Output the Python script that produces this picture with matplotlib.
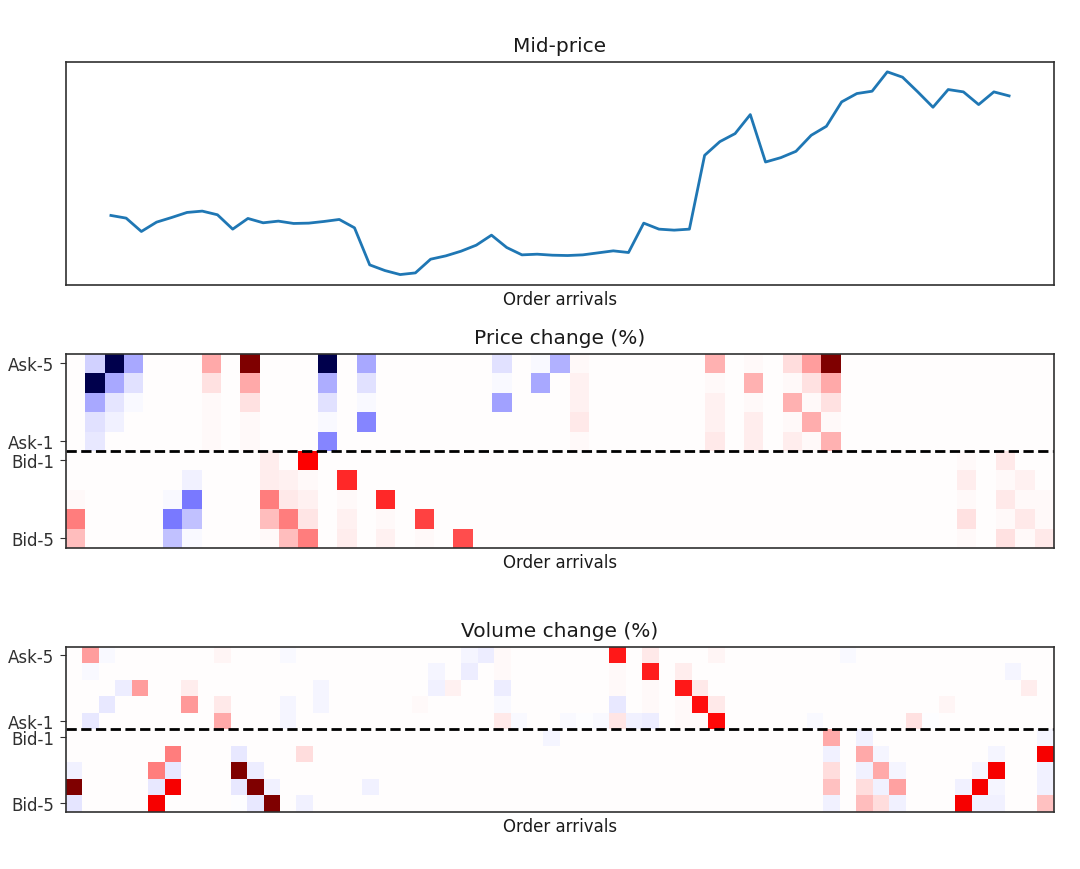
import numpy as np
from matplotlib import pyplot as plt

## Mid-price (arbitrary units, the axis has no ticks)

mid_price = [208, 200, 160, 188, 202, 217, 221, 210, 167, 199,
             186, 191, 184, 185, 190, 196, 171, 60, 43, 31,
             36, 77, 87, 101, 119, 149, 112, 90, 92, 89,
             88, 90, 96, 102, 97, 185, 167, 164, 167, 388,
             429, 453, 510, 368, 381, 400, 448, 475, 548, 573,
             580, 638, 622, 578, 532, 585, 578, 540, 578, 566]

level_labels = ['Ask-5', 'Ask-1', 'Bid-1', 'Bid-5']
level_ticks = [0, 4, 5, 9]

## Price change cells: level (row), arrival (column), value

price_level = [7, 8, 9,
               0, 1, 2, 3, 4,
               0, 1, 2, 3,
               0, 1, 2,
               7, 8, 9,
               6, 7, 8, 9,
               0, 1, 2, 3, 4,
               0, 1, 2, 3, 4,
               5, 6, 7, 8, 9,
               6, 7, 8, 9,
               5, 6, 7, 8, 9,
               0, 1, 2, 3, 4,
               6, 7, 8, 9,
               0, 1, 2, 3,
               7, 8, 9,
               8, 9,
               9,
               0, 1, 2,
               0, 1,
               0,
               0, 1, 2, 3, 4,
               0, 1, 2, 3, 4,
               0, 1, 2, 3, 4,
               0, 1, 2, 3, 4,
               0, 1, 2, 3, 4,
               0, 1, 2, 3, 4,
               5, 6, 7, 8, 9,
               5, 6, 7, 8, 9,
               6, 7, 8, 9,
               7, 8, 9]
price_arrival = [0, 0, 0,
                 1, 1, 1, 1, 1,
                 2, 2, 2, 2,
                 3, 3, 3,
                 5, 5, 5,
                 6, 6, 6, 6,
                 7, 7, 7, 7, 7,
                 9, 9, 9, 9, 9,
                 10, 10, 10, 10, 10,
                 11, 11, 11, 11,
                 12, 12, 12, 12, 12,
                 13, 13, 13, 13, 13,
                 14, 14, 14, 14,
                 15, 15, 15, 15,
                 16, 16, 16,
                 18, 18,
                 20,
                 22, 22, 22,
                 24, 24,
                 25,
                 26, 26, 26, 26, 26,
                 33, 33, 33, 33, 33,
                 35, 35, 35, 35, 35,
                 37, 37, 37, 37, 37,
                 38, 38, 38, 38, 38,
                 39, 39, 39, 39, 39,
                 46, 46, 46, 46, 46,
                 48, 48, 48, 48, 48,
                 49, 49, 49, 49,
                 50, 50, 50]
price_value = [.01, .25, .125,
               -.09, -1, -.17, -.06, -.04,
               -1, -.17, -.05, -.03,
               -.17, -.06, -.015,
               -.015, -.26, -.12,
               -.03, -.26, -.125, -.015,
               .17, .06, .015, .015, .015,
               1, .17, .06, .015, .015,
               .035, .035, .25, .125, .015,
               .03, .04, .25, .125,
               .5, .015, .03, .05, .25,
               -1, -.16, -.055, -.015, -.235,
               .42, .01, .03, .035,
               -.17, -.055, -.012, -.235,
               .42, .012, .03,
               .37, .012,
               .35,
               -.06, -.012, -.18,
               -.012, -.17,
               -.15,
               .012, .025, .025, .04, .012,
               .15, .012, .03, .03, .045,
               .012, .15, .012, .035, .035,
               .07, .012, .15, .012, .035,
               .19, .06, .01, .16, .012,
               1, .17, .06, .012, .15,
               .012, .035, .012, .06, .012,
               .04, .012, .045, .012, .06,
               .03, .012, .045, .012,
               .012, .012, .045]

## Volume change cells: level (row), arrival (column), value

volume_level = [7, 8, 9,
                0, 1, 4,
                0, 3,
                2,
                2,
                7, 8, 9,
                6, 7, 8,
                2, 3,
                0, 3, 4,
                6, 7, 8, 9,
                7, 8, 9,
                8, 9,
                0, 3, 4,
                6, 9,
                2, 3,
                8,
                3,
                1, 2,
                2,
                0, 1,
                0,
                0, 1, 2, 3, 4,
                4,
                5,
                4,
                4,
                4,
                0, 1, 2, 3, 4,
                4,
                0, 1, 2, 3, 4,
                1, 2, 3, 4,
                2, 3, 4,
                0, 3, 4,
                4,
                5, 6, 7, 8, 9,
                0,
                5, 6, 7, 8, 9,
                6, 7, 8, 9,
                7, 8, 9,
                4,
                4,
                3,
                8, 9,
                7, 8, 9,
                6, 7, 8, 9,
                1,
                2,
                5, 6, 7, 8, 9]
volume_arrival = [0, 0, 0,
                  1, 1, 1,
                  2, 2,
                  3,
                  4,
                  5, 5, 5,
                  6, 6, 6,
                  7, 7,
                  9, 9, 9,
                  10, 10, 10, 10,
                  11, 11, 11,
                  12, 12,
                  13, 13, 13,
                  14, 14,
                  15, 15,
                  18,
                  21,
                  22, 22,
                  23,
                  24, 24,
                  25,
                  26, 26, 26, 26, 26,
                  27,
                  29,
                  30,
                  31,
                  32,
                  33, 33, 33, 33, 33,
                  34,
                  35, 35, 35, 35, 35,
                  37, 37, 37, 37,
                  38, 38, 38,
                  39, 39, 39,
                  45,
                  46, 46, 46, 46, 46,
                  47,
                  48, 48, 48, 48, 48,
                  49, 49, 49, 49,
                  50, 50, 50,
                  51,
                  52,
                  53,
                  54, 54,
                  55, 55, 55,
                  56, 56, 56, 56,
                  57,
                  58,
                  59, 59, 59, 59, 59]
volume_value = [-.03, 1, -.05,
                .19, -.01, -.04,
                -.012, -.04,
                -.035,
                .19,
                .25, -.04, .53,
                .25, -.04, .53,
                .035, .2,
                .02, .04, .17,
                -.04, 1, -.04, -.005,
                -.035, 1, -.04,
                -.025, 1,
                -.012, -.02, -.02,
                .065, -.03,
                -.02, -.02,
                -.025,
                .012,
                -.02, -.025,
                .03,
                -.02, -.035,
                -.035,
                .012, .012, -.035, -.012, .04,
                -.012,
                -.02,
                -.012,
                -.005,
                -.015,
                .45, .01, .012, -.04, .05,
                -.025,
                .04, .44, .012, .012, -.035,
                .035, .45, .012, .012,
                .04, .47, .012,
                .02, .04, .48,
                -.012,
                .17, -.03, .065, .12, -.03,
                -.008,
                -.03, .17, -.03, .065, .125,
                -.02, .17, -.03, .065,
                -.02, .18, -.025,
                .06,
                -.005,
                .02,
                -.03, .53,
                -.02, .53, -.03,
                -.02, .53, -.02, -.03,
                -.02,
                .035,
                -.02, .53, -.03, -.03, .12]

price_grid = np.zeros((10, 51))
price_grid[price_level, price_arrival] = price_value
volume_grid = np.zeros((10, 60))
volume_grid[volume_level, volume_arrival] = volume_value

W, H = 1080, 870
plt.rcParams['font.size'] = 12
plt.rcParams['axes.linewidth'] = 1.2
plt.rcParams['axes.edgecolor'] = '#303030'
plt.rcParams['xtick.color'] = '#303030'
plt.rcParams['ytick.color'] = '#303030'
plt.rcParams['ytick.major.size'] = 4.2
plt.rcParams['ytick.major.pad'] = 4.3
plt.rcParams['text.color'] = '#1a1a1a'
plt.rcParams['axes.labelcolor'] = '#1a1a1a'

fig = plt.figure(figsize=(W / 100, H / 100), dpi=100)

def pixel_axes(top, bottom):
    return fig.add_axes([66 / W, 1 - bottom / H, 988 / W, (bottom - top) / H])

ax = pixel_axes(62.7, 285.7)
ax.plot(mid_price, color='tab:blue', lw=2.0)
ax.set_xticks([])
ax.set_yticks([])
ax.set_title('Mid-price', fontsize=14.5, pad=7.5)
ax.set_xlabel('Order arrivals', labelpad=4)

for top, bottom, grid, title in [(354.7, 548.7, price_grid, 'Price change (%)'),
                                 (647.7, 812.7, volume_grid, 'Volume change (%)')]:
    ax = pixel_axes(top, bottom)
    ax.imshow(grid, cmap='seismic', vmin=-1, vmax=1, aspect='auto',
              interpolation='nearest')
    ax.axhline(4.5, color='k', ls='--', lw=2.0)
    ax.set_xticks([])
    ax.set_yticks(level_ticks)
    ax.set_yticklabels(level_labels)
    ax.set_title(title, fontsize=14.5, pad=7.5)
    ax.set_xlabel('Order arrivals', labelpad=4)

fig.savefig('out.png', dpi=100)
